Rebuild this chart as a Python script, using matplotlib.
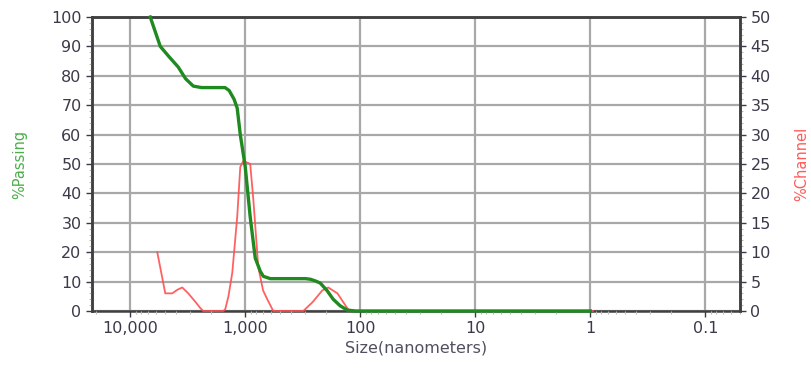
import matplotlib.pyplot as plt
from matplotlib.ticker import FixedLocator, FixedFormatter, MultipleLocator, NullFormatter
import numpy as np

# % passing curve (left axis)
pass_size = [6700, 5480, 4600, 3830, 3300, 2830, 2400, 1900, 1500, 1380, 1250, 1175, 1105,
             1000, 906, 819, 740, 697, 606, 450, 300, 272, 245, 223, 195, 172, 150, 130, 110, 80, 10, 1]
pass_pct = [100, 90, 86.5, 83, 79, 76.5, 76, 76, 76, 75, 72, 69, 60,
            49, 32, 18, 13.5, 11.8, 11, 11, 11, 10.8, 10.2, 9.5, 7, 4, 1.8, 0.3, 0, 0, 0, 0]

# % channel curve (right axis)
chan_size = [5820, 4960, 4310, 3900, 3530, 3130, 2700, 2460, 2320, 1550, 1493, 1400, 1297, 1175, 1105,
             1041, 950, 906, 851, 771, 700, 644, 571, 313, 260, 214, 190, 158, 130, 122, 10, 0.95]
chan_pct = [10, 3, 3, 3.6, 4, 3, 1.5, 0.5, 0, 0, 0.3, 2.5, 6.5, 16, 24.5,
            25.5, 25.2, 25, 19, 7.5, 3.5, 2, 0, 0, 1.5, 3.5, 4, 3, 0.5, 0, 0, 0]

x_ticks = [10000, 1000, 100, 10, 1, 0.1]
x_labels = ["10,000", "1,000", "100", "10", "1", "0.1"]

tick_color = "#3a3a4a"
grid_color = "#a8a8a8"

fig = plt.figure(figsize=(8.12, 3.70), dpi=100)
ax = fig.add_axes([0.1133, 0.1595, 0.7980, 0.7945])
ax2 = ax.twinx()
ax.set_zorder(ax2.get_zorder() + 1)
ax.patch.set_visible(False)

# grid drawn on the lower axes so both curves sit above it
ax2.grid(True, which="major", axis="y", color=grid_color, lw=1.6)
for xt in x_ticks:
    ax2.axvline(xt, color=grid_color, lw=1.6, zorder=0.5)

ax2.plot(chan_size, chan_pct, color="#ff5050", lw=1.3, alpha=0.9, zorder=3, clip_on=False)
ax.plot(pass_size, pass_pct, color="#1f8a1f", lw=2.4, zorder=3, clip_on=False)

ax.set_xscale("log")
ax.set_xlim(21500, 0.05)
ax.set_ylim(0, 100)
ax2.set_ylim(0, 50)

ax.xaxis.set_major_locator(FixedLocator(x_ticks))
ax.xaxis.set_major_formatter(FixedFormatter(x_labels))
ax.xaxis.set_minor_formatter(NullFormatter())
ax.yaxis.set_major_locator(MultipleLocator(10))
ax.yaxis.set_minor_locator(MultipleLocator(2))
ax2.yaxis.set_major_locator(MultipleLocator(5))
ax2.yaxis.set_minor_locator(MultipleLocator(1))
ax2.set_axisbelow(True)

for a in (ax, ax2):
    a.tick_params(which="major", colors=tick_color, labelsize=11.5, length=4, width=1)
    a.tick_params(which="minor", colors="#bbbbbb", length=2.5, width=0.8)
    for sp in a.spines.values():
        sp.set_color("#404040")
        sp.set_linewidth(1.8)
ax.spines["bottom"].set_visible(False)

ax.set_ylabel("%Passing", color="#4cae4c", fontsize=10.5, labelpad=17)
ax2.set_ylabel("%Channel", color="#ff5a5a", fontsize=10.5, labelpad=17)
ax.set_xlabel("Size(nanometers)", color="#505060", fontsize=11.5, labelpad=3)

fig.savefig("out.png", dpi=100)
